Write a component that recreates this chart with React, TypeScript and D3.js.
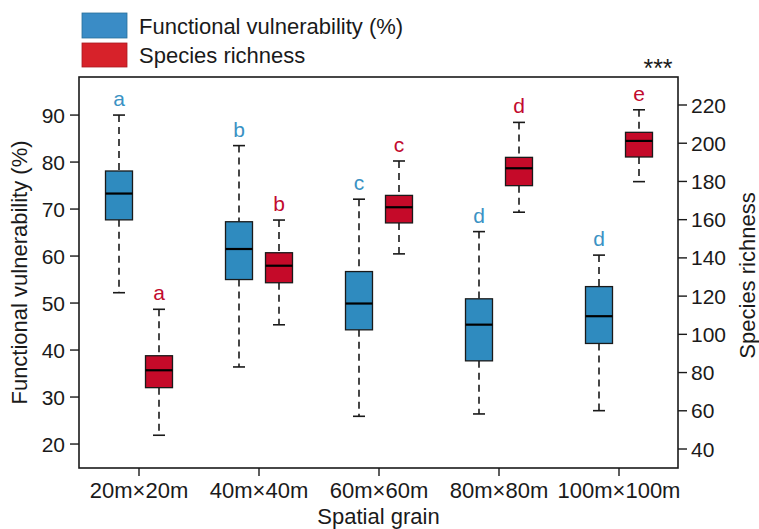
import React from 'react'
import * as d3 from 'd3'

// grain sizes on the x axis
const categories = ['20m×20m', '40m×40m', '60m×60m', '80m×80m', '100m×100m']

// functional vulnerability (%) - left axis
const fvLow = [52.2, 36.4, 25.9, 26.4, 27.1]
const fvQ1 = [67.7, 55.0, 44.3, 37.7, 41.4]
const fvMedian = [73.3, 61.5, 49.9, 45.4, 47.2]
const fvQ3 = [78.1, 67.3, 56.7, 50.9, 53.5]
const fvHigh = [90.0, 83.5, 72.1, 65.2, 60.2]
const fvLetters = ['a', 'b', 'c', 'd', 'd']

// species richness - right axis
const srLow = [47.2, 105.0, 142.1, 163.9, 179.9]
const srQ1 = [72.1, 127.0, 158.3, 177.8, 192.8]
const srMedian = [81.2, 135.9, 166.5, 186.9, 201.2]
const srQ3 = [88.8, 142.7, 172.7, 192.6, 205.7]
const srHigh = [113.1, 159.8, 190.7, 210.9, 217.5]
const srLetters = ['a', 'b', 'c', 'd', 'e']

const W = 759, H = 529
const left = 79, right = 678, top = 77, bottom = 468
const font = '"Liberation Sans", Arial, sans-serif'
const ink = '#1a1a1a'
const blue = '#2f8bbf', red = '#c50a29'
const blueText = '#3a92c4', redText = '#c20a2e'

const x = d3.scalePoint<string>().domain(categories).range([left, right + 1]).padding(0.5)
const yL = d3.scaleLinear().domain([14.9, 98.1]).range([bottom, top])
const yR = d3.scaleLinear().domain([30.06, 234.65]).range([bottom, top])

const boxW = 27, offset = 20, cap = 12

type Series = { low: number[], q1: number[], med: number[], q3: number[], high: number[], letters: string[] }

const Boxes = ({ s, y, dx, fill, txt }: { s: Series, y: d3.ScaleLinear<number, number>, dx: number, fill: string, txt: string }) => (
  <g>
    {categories.map((c, i) => {
      const cx = (x(c) as number) + dx
      return (
        <g key={c}>
          <line x1={cx} x2={cx} y1={y(s.high[i])} y2={y(s.q3[i])} stroke={ink} strokeWidth={1.6} strokeDasharray="7,5" />
          <line x1={cx} x2={cx} y1={y(s.q1[i])} y2={y(s.low[i])} stroke={ink} strokeWidth={1.6} strokeDasharray="7,5" />
          <line x1={cx - cap / 2} x2={cx + cap / 2} y1={y(s.high[i])} y2={y(s.high[i])} stroke={ink} strokeWidth={1.6} />
          <line x1={cx - cap / 2} x2={cx + cap / 2} y1={y(s.low[i])} y2={y(s.low[i])} stroke={ink} strokeWidth={1.6} />
          <rect x={cx - boxW / 2} y={y(s.q3[i])} width={boxW} height={y(s.q1[i]) - y(s.q3[i])} fill={fill} stroke={ink} strokeWidth={1.3} />
          <line x1={cx - boxW / 2} x2={cx + boxW / 2} y1={y(s.med[i])} y2={y(s.med[i])} stroke="#000" strokeWidth={2.2} />
          <text x={cx} y={y(s.high[i]) - 9} textAnchor="middle" fill={txt} fontSize={21}>{s.letters[i]}</text>
        </g>
      )
    })}
  </g>
)

const App = () => {
  const fv: Series = { low: fvLow, q1: fvQ1, med: fvMedian, q3: fvQ3, high: fvHigh, letters: fvLetters }
  const sr: Series = { low: srLow, q1: srQ1, med: srMedian, q3: srQ3, high: srHigh, letters: srLetters }
  const midY = (top + bottom) / 2
  return (
    <svg width={W} height={H} style={{ position: 'absolute', left: 0, top: 0, background: '#fff' }} fontFamily={font}>
      {/* legend */}
      <rect x={82} y={13} width={45} height={25} fill="#3a8cc6" stroke="#2a6f9a" strokeWidth={0.8} />
      <rect x={82} y={43} width={45} height={24} fill="#d7222a" stroke="#a81a20" strokeWidth={0.8} />
      <text x={139} y={34} fontSize={22} fill={ink}>Functional vulnerability (%)</text>
      <text x={139} y={63} fontSize={22} fill={ink}>Species richness</text>
      <text x={658} y={77} fontSize={25} textAnchor="middle" fill={ink}>***</text>

      <rect x={left} y={top} width={right - left} height={bottom - top} fill="none" stroke={ink} strokeWidth={1.6} />

      {/* left axis */}
      {yL.ticks(8).map(t => (
        <g key={'l' + t}>
          <line x1={left - 9} x2={left} y1={yL(t)} y2={yL(t)} stroke={ink} strokeWidth={1.4} />
          <text x={left - 14} y={yL(t)} dy="0.36em" textAnchor="end" fontSize={21} fill={ink}>{t}</text>
        </g>
      ))}
      {/* right axis */}
      {yR.ticks(10).map(t => (
        <g key={'r' + t}>
          <line x1={right} x2={right + 9} y1={yR(t)} y2={yR(t)} stroke={ink} strokeWidth={1.4} />
          <text x={right + 13} y={yR(t)} dy="0.36em" textAnchor="start" fontSize={21} fill={ink}>{t}</text>
        </g>
      ))}
      {/* x axis */}
      {categories.map(c => (
        <g key={c}>
          <line x1={x(c)} x2={x(c)} y1={bottom} y2={bottom + 8} stroke={ink} strokeWidth={1.4} />
          <text x={x(c)} y={498} textAnchor="middle" fontSize={22} fill={ink}>{c}</text>
        </g>
      ))}

      <text x={(left + right) / 2} y={524} textAnchor="middle" fontSize={22} fill={ink}>Spatial grain</text>
      <text transform={`translate(27,${midY}) rotate(-90)`} textAnchor="middle" fontSize={22} fill={ink}>Functional vulnerability (%)</text>
      <text transform={`translate(755,${midY + 3}) rotate(-90)`} textAnchor="middle" fontSize={22} fill={ink}>Species richness</text>

      <Boxes s={fv} y={yL} dx={-offset} fill={blue} txt={blueText} />
      <Boxes s={sr} y={yR} dx={offset} fill={red} txt={redText} />
    </svg>
  )
}

export default App
